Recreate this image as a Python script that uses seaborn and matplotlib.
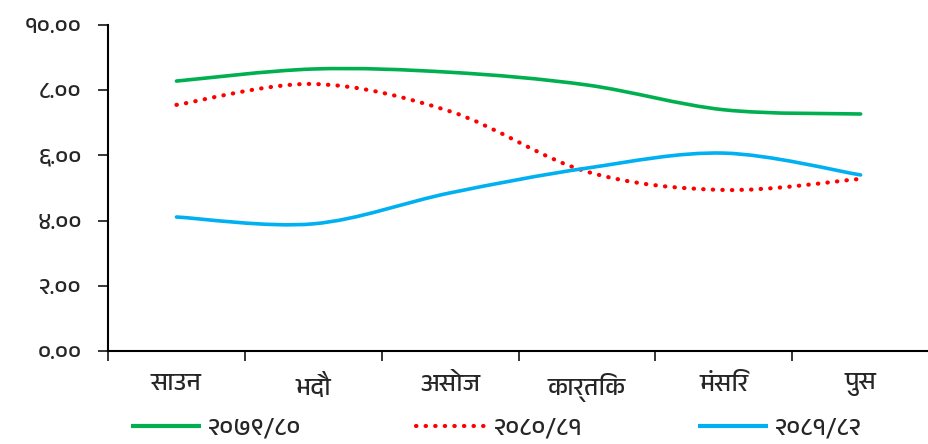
import numpy as np
import pandas as pd
import seaborn as sns
import matplotlib.pyplot as plt
from matplotlib import font_manager
from matplotlib.ft2font import FT2Font
from matplotlib.path import Path
from matplotlib.patches import PathPatch

# data
months = ["साउन", "भदौ", "असोज", "कार्तिक", "मंसिर", "पुस"]
years = ["२०७९/८०", "२०८०/८१", "२०८१/८२"]
y_2079 = [8.28, 8.65, 8.55, 8.16, 7.40, 7.27]
y_2080 = [7.55, 8.19, 7.35, 5.50, 4.94, 5.28]
y_2081 = [4.11, 3.90, 4.85, 5.61, 6.07, 5.40]
ytick_vals = [0, 2, 4, 6, 8, 10]
ytick_labels = ["०.००", "२.००", "४.००", "६.००", "८.००", "१०.००"]
colors = ["#00B050", "#FF0000", "#00B0F0"]

sns.set_style("white")

# find installed families that can draw Devanagari, proportional ones first
cands = []
for f in font_manager.fontManager.ttflist:
    try:
        if 0x0915 in FT2Font(f.fname).get_charmap() and f.name not in cands:
            cands.append(f.name)
    except Exception:
        pass
cands.sort(key=lambda n: ("Mono" in n, "Devanagari" not in n))
plt.rcParams["font.family"] = cands[:1] + ["DejaVu Sans"]

df = pd.DataFrame({"month": months * 3,
                   "value": y_2079 + y_2080 + y_2081,
                   "year": [y for y in years for _ in months]})
df["pos"] = list(range(len(months))) * 3

fig = plt.figure(figsize=(9.29, 4.44), dpi=100)
ax = fig.add_axes([0.1163, 0.2095, 0.8837, 0.7342])

sns.lineplot(data=df, x="pos", y="value", hue="year", style="year",
             palette=colors, dashes=[(1, 0), (1, 1.6), (1, 0)],
             linewidth=2.6, ax=ax, legend=True)

# Excel style smoothing: redraw each line as a bezier through the same points
for line, col, ls in zip(ax.lines[:3], colors, ["-", (0, (0.1, 2.2)), "-"]):
    xy = line.get_xydata()
    verts = [xy[0]]
    codes = [Path.MOVETO]
    n = len(xy)
    for i in range(n - 1):
        p0 = xy[max(i - 1, 0)]
        p1, p2 = xy[i], xy[i + 1]
        p3 = xy[min(i + 2, n - 1)]
        verts += [p1 + (p2 - p0) / 6, p2 - (p3 - p1) / 6, p2]
        codes += [Path.CURVE4] * 3
    ax.add_patch(PathPatch(Path(verts, codes), fill=False, edgecolor=col,
                           linewidth=3 if ls != "-" else 2.6, linestyle=ls,
                           capstyle="round"))
    line.set_visible(False)

ax.set_xlim(-0.5, len(months) - 0.5)
ax.set_ylim(0, 10)
ax.set_xticks(np.arange(len(months)))
ax.set_xticklabels(months, fontsize=18)
ax.set_xticks(np.arange(len(months) + 1) - 0.5, minor=True)
ax.tick_params(axis="x", which="major", length=0, pad=16)
ax.tick_params(axis="x", which="minor", length=7, width=1.3, direction="out", bottom=True)
ax.set_yticks(ytick_vals)
ax.set_yticklabels(ytick_labels, fontsize=17)
ax.tick_params(axis="y", length=7, width=1.3, direction="out", left=True, pad=12)
ax.set_xlabel("")
ax.set_ylabel("")
for s in ["top", "right"]:
    ax.spines[s].set_visible(False)
for s in ["left", "bottom"]:
    ax.spines[s].set_color("black")
    ax.spines[s].set_linewidth(1.5)

handles, labels = ax.get_legend_handles_labels()
for h, col in zip(handles, colors):
    h.set_linewidth(3)
handles[1].set_dashes((0.1, 2.2))
handles[1].set_dash_capstyle("round")
ax.legend(handles, labels, loc="center", bbox_to_anchor=(0.473, -0.236),
          ncol=3, frameon=False, fontsize=18, handlelength=2.8,
          columnspacing=4.6, handletextpad=0.3, borderpad=0)

fig.savefig("out.png", dpi=100)
